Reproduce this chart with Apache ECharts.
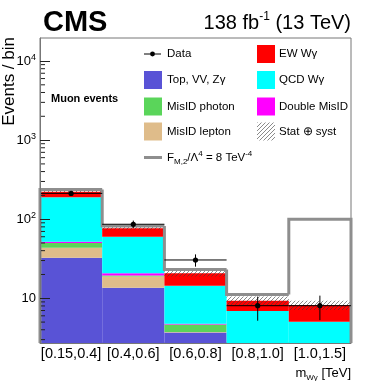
<!DOCTYPE html>
<html>
<head>
<meta charset="utf-8">
<script src="https://cdn.jsdelivr.net/npm/echarts@6/dist/echarts.min.js"></script>
<style>
html, body { margin: 0; padding: 0; background: #fff; }
#chart { width: 390px; height: 381px; }
</style>
</head>
<body>
<div id="chart"></div>
<script>
// bins in m_Wgamma
const bins = ["[0.15,0.4]", "[0.4,0.6]", "[0.6,0.8]", "[0.8,1.0]", "[1.0,1.5]"];

// stacked backgrounds (bottom to top)
const topVV = [32.6, 13.6, 3.7, 1.2, 0.5];
const misidLepton = [11.0, 5.3, 0.05, 0.3, 0.1];
const misidPhoton = [6.4, 0.5, 0.9, 0.5, 0.2];
const doubleMisid = [2.0, 1.3, 0.1, 0.05, 0.02];
const qcdWg = [137, 39.4, 9.7, 4.85, 4.24];
const ewWg = [34, 16.6, 6.2, 2.4, 3.17];

// stat+syst band
const uncLow = [217, 74, 18.8, 8.2, 7.1];
const uncHigh = [229, 79.5, 22.4, 10.5, 9.3];

// aQGC line F_M2/L^4 = 8 TeV^-4
const bsm = [237, 82, 23.1, 11.2, 100];

// data
const dataVal = [212, 86.3, 30.5, 8.06, 8.06];
const dataLo = [198, 77, 25.1, 5.2, 5.3];
const dataHi = [227, 96, 35.9, 10.5, 10.8];

const yMin = 2.72, yMax = 19540;
const yMajorTicks = [10, 100, 1000, 10000];

const FONT = "Liberation Sans, Arial, sans-serif";

// hatch pattern
const hc = document.createElement("canvas");
hc.width = 4; hc.height = 4;
const hctx = hc.getContext("2d");
hctx.fillStyle = "rgba(60,60,60,0.6)";
for (let i = 0; i < 4; i++) hctx.fillRect(i, 3 - i, 1, 1);
const hatch = { image: hc, repeat: "repeat" };

const minorTicks = [];
for (let n = 0; n <= 4; n++) {
  for (let k = 2; k <= 9; k++) {
    const v = k * Math.pow(10, n);
    if (v > yMin && v < yMax) minorTicks.push([0, v]);
  }
}

function bandWidth(api) {
  return api.size([1, 10])[0];
}

const stackDefs = [
  { name: "Top, VV, Z\u03b3", data: topVV, color: "#5953d6" },
  { name: "MisID lepton", data: misidLepton, color: "#dfbc8a" },
  { name: "MisID photon", data: misidPhoton, color: "#5ad55a" },
  { name: "Double MisID", data: doubleMisid, color: "#ff00ff" },
  { name: "QCD W\u03b3", data: qcdWg, color: "#00ffff" },
  { name: "EW W\u03b3", data: ewWg, color: "#ff0000" },
];

const series = stackDefs.map((s) => ({
  name: s.name,
  type: "bar",
  stack: "mc",
  data: s.data,
  barWidth: "100%",
  barCategoryGap: "0%",
  itemStyle: { color: s.color },
  silent: true,
  z: 2,
}));

series.push({
  name: "unc",
  type: "custom",
  z: 3,
  silent: true,
  data: bins.map((b, i) => [i, uncLow[i], uncHigh[i]]),
  renderItem: function (params, api) {
    const i = api.value(0);
    const lo = api.coord([i, api.value(1)]);
    const hi = api.coord([i, api.value(2)]);
    const w = bandWidth(api);
    return {
      type: "rect",
      shape: { x: lo[0] - w / 2, y: hi[1], width: w, height: lo[1] - hi[1] },
      style: { fill: hatch },
    };
  },
});

series.push({
  name: "bsm",
  type: "custom",
  z: 4,
  silent: true,
  data: bins.map((b, i) => [i, bsm[i], i > 0 ? bsm[i - 1] : yMin]),
  renderItem: function (params, api) {
    const i = api.value(0);
    const c = api.coord([i, api.value(1)]);
    const p = api.coord([i, api.value(2)]);
    const w = bandWidth(api);
    const pts = [[c[0] - w / 2, p[1]], [c[0] - w / 2, c[1]], [c[0] + w / 2, c[1]]];
    if (params.dataIndex === bins.length - 1) {
      pts.push([c[0] + w / 2, params.coordSys.y + params.coordSys.height]);
    }
    return {
      type: "polyline",
      shape: { points: pts },
      style: { stroke: "#8e8e8e", lineWidth: 3, fill: null, lineJoin: "miter" },
    };
  },
});

series.push({
  name: "Data",
  type: "custom",
  z: 5,
  silent: true,
  data: bins.map((b, i) => [i, dataVal[i], dataLo[i], dataHi[i]]),
  renderItem: function (params, api) {
    const i = api.value(0);
    const c = api.coord([i, api.value(1)]);
    const lo = api.coord([i, api.value(2)]);
    const hi = api.coord([i, api.value(3)]);
    const w = bandWidth(api);
    return {
      type: "group",
      children: [
        { type: "line", shape: { x1: c[0] - w / 2, y1: c[1], x2: c[0] + w / 2, y2: c[1] }, style: { stroke: "#000", lineWidth: 1 } },
        { type: "line", shape: { x1: c[0], y1: hi[1], x2: c[0], y2: lo[1] }, style: { stroke: "#000", lineWidth: 1 } },
        { type: "circle", shape: { cx: c[0], cy: c[1], r: 2.6 }, style: { fill: "#000" } },
      ],
    };
  },
});

series.push({
  name: "minorTicks",
  type: "custom",
  z: 6,
  silent: true,
  clip: false,
  data: minorTicks,
  renderItem: function (params, api) {
    const y = api.coord([0, api.value(1)])[1];
    const x = params.coordSys.x;
    return {
      type: "line",
      shape: { x1: x, y1: y, x2: x + 5, y2: y },
      style: { stroke: "#222", lineWidth: 1 },
    };
  },
});

// legend (drawn as graphic)
const legX1 = 144, legX2 = 257, legT1 = 167, legT2 = 279;
const legRows = [54, 80, 106.5, 131.5, 157.5];
const legItems = [
  { col: 1, row: 0, kind: "data", text: "Data" },
  { col: 1, row: 1, kind: "box", color: "#5953d6", text: "Top, VV, Z\u03b3" },
  { col: 1, row: 2, kind: "box", color: "#5ad55a", text: "MisID photon" },
  { col: 1, row: 3, kind: "box", color: "#dfbc8a", text: "MisID lepton" },
  { col: 2, row: 0, kind: "box", color: "#ff0000", text: "EW W\u03b3" },
  { col: 2, row: 1, kind: "box", color: "#00ffff", text: "QCD W\u03b3" },
  { col: 2, row: 2, kind: "box", color: "#ff00ff", text: "Double MisID" },
  { col: 2, row: 3, kind: "hatch", text: "Stat \u2295 syst" },
];

const graphics = [];
legItems.forEach((it) => {
  const bx = it.col === 1 ? legX1 : legX2;
  const tx = it.col === 1 ? legT1 : legT2;
  const cy = legRows[it.row];
  if (it.kind === "data") {
    graphics.push({ type: "line", shape: { x1: bx, y1: cy, x2: bx + 17, y2: cy }, style: { stroke: "#000", lineWidth: 1 } });
    graphics.push({ type: "circle", shape: { cx: bx + 8.5, cy: cy, r: 2.4 }, style: { fill: "#000" } });
  } else {
    graphics.push({
      type: "rect",
      shape: { x: bx, y: cy - 9, width: 18, height: 18 },
      style: { fill: it.kind === "hatch" ? hatch : it.color },
    });
  }
  graphics.push({
    type: "text",
    x: tx, y: cy,
    style: { text: it.text, font: "11.5px " + FONT, fill: "#000", verticalAlign: "middle", align: "left" },
  });
});
graphics.push({ type: "line", shape: { x1: legX1, y1: legRows[4], x2: legX1 + 18, y2: legRows[4] }, style: { stroke: "#8e8e8e", lineWidth: 3 } });
graphics.push({
  type: "text",
  x: legT1, y: legRows[4],
  style: {
    text: "{a|F}{sub|M,2}{a|/\u039b}{sup|4}{a| = 8 TeV}{sup|-4}",
    verticalAlign: "middle",
    fill: "#000",
    rich: {
      a: { fontSize: 11.5, fontFamily: FONT, lineHeight: 16 },
      sup: { fontSize: 8, fontFamily: FONT, lineHeight: 10, verticalAlign: "top" },
      sub: { fontSize: 8, fontFamily: FONT, lineHeight: 9, verticalAlign: "bottom" },
    },
  },
});

// header texts
graphics.push({ type: "text", x: 43, y: 23, style: { text: "CMS", font: "bold 29px " + FONT, fill: "#000", verticalAlign: "middle" } });
graphics.push({
  type: "text",
  x: 351, y: 23,
  style: {
    text: "{a|138 fb}{s|-1}{a| (13 TeV)}",
    align: "right",
    verticalAlign: "middle",
    fill: "#000",
    rich: {
      a: { fontSize: 20, fontFamily: FONT, lineHeight: 24 },
      s: { fontSize: 12, fontFamily: FONT, lineHeight: 14, verticalAlign: "top" },
    },
  },
});
graphics.push({ type: "text", x: 51, y: 99, style: { text: "Muon events", font: "bold 11px " + FONT, fill: "#000", verticalAlign: "middle" } });
graphics.push({
  type: "text",
  x: 9, y: 37,
  rotation: Math.PI / 2,
  style: { text: "Events / bin", font: "17px " + FONT, fill: "#000", align: "right", verticalAlign: "middle" },
});
graphics.push({
  type: "text",
  x: 351, y: 373,
  style: {
    text: "{a|m}{sub|W\u03b3}{a| [TeV]}",
    align: "right",
    verticalAlign: "middle",
    fill: "#000",
    rich: {
      a: { fontSize: 13, fontFamily: FONT, lineHeight: 18 },
      sub: { fontSize: 8, fontFamily: FONT, lineHeight: 10, verticalAlign: "bottom" },
    },
  },
});

const chart = echarts.init(document.getElementById("chart"));
chart.setOption({
  animation: false,
  backgroundColor: "#fff",
  grid: { left: 40, right: 39, top: 38, bottom: 38, show: true, borderColor: "#777", borderWidth: 1, backgroundColor: "transparent" },
  xAxis: {
    type: "category",
    data: bins,
    z: 10,
    axisLine: { lineStyle: { color: "#777", width: 1 } },
    axisTick: { inside: true, length: 9, alignWithLabel: false, lineStyle: { color: "#222" } },
    axisLabel: { interval: 0, fontSize: 14.5, fontFamily: FONT, color: "#000", margin: 3 },
    splitLine: { show: false },
  },
  yAxis: {
    type: "log",
    min: yMin,
    max: yMax,
    z: 10,
    axisLine: { show: true, lineStyle: { color: "#777", width: 1 } },
    axisTick: { show: true, inside: true, length: 10, lineStyle: { color: "#222" } },
    splitLine: { show: false },
    axisLabel: {
      margin: 4,
      showMinLabel: false,
      showMaxLabel: false,
      formatter: function (v) {
        const e = Math.round(Math.log10(v));
        if (!yMajorTicks.includes(Math.pow(10, e)) || Math.abs(Math.log10(v) - e) > 1e-6) return "";
        if (e === 1) return "{b|10}";
        return "{b|10}{s|" + e + "}";
      },
      rich: {
        b: { fontSize: 13, fontFamily: FONT, color: "#000", lineHeight: 16 },
        s: { fontSize: 9, fontFamily: FONT, color: "#000", lineHeight: 10, verticalAlign: "top" },
      },
    },
  },
  series: series,
  graphic: graphics,
});
</script>
</body>
</html>
